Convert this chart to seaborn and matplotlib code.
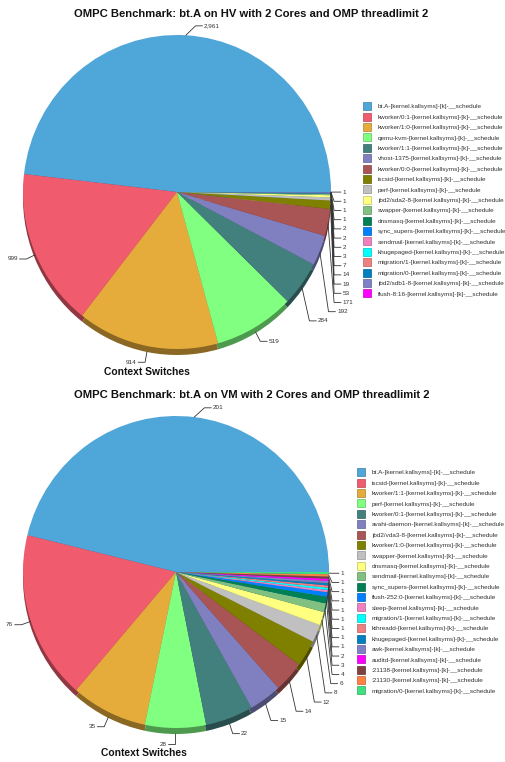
import numpy as np
import matplotlib
matplotlib.use("Agg")
import matplotlib.pyplot as plt
import matplotlib.colors as mcolors
from matplotlib.lines import Line2D
import seaborn as sns

# ---------------- data ----------------
hv_title = "OMPC Benchmark: bt.A on HV with 2 Cores and OMP threadlimit 2"
hv_processes = ["bt.A", "kworker/0:1", "kworker/1:0", "qemu-kvm", "kworker/1:1",
                "vhost-1375", "kworker/0:0", "iscsid", "perf", "jbd2/sda2-8",
                "swapper", "dnsmasq", "sync_supers", "sendmail", "khugepaged",
                "migration/1", "migration/0", "jbd2/sdb1-8", "flush-8:16"]
hv_switches = [2961, 999, 914, 519, 284, 192, 171, 53, 19, 14,
               7, 3, 2, 2, 2, 1, 1, 1, 1]

vm_title = "OMPC Benchmark: bt.A on VM with 2 Cores and OMP threadlimit 2"
vm_processes = ["bt.A", "iscsid", "kworker/1:1", "perf", "kworker/0:1",
                "avahi-daemon", "jbd2/vda3-8", "kworker/1:0", "swapper", "dnsmasq",
                "sendmail", "sync_supers", "flush-252:0", "sleep", "migration/1",
                "kthreadd", "khugepaged", "awk", "auditd", ":21138", ":21130",
                "migration/0"]
vm_switches = [201, 76, 35, 28, 22, 15, 14, 12, 8, 6, 4, 3, 2,
               1, 1, 1, 1, 1, 1, 1, 1, 1]

label_suffix = "-[kernel.kallsyms]-[k]-__schedule"
axis_label = "Context Switches"

palette_hex = ["#4FA6D8", "#F05B6E", "#E6AC3B", "#80FF80", "#42807E", "#8080C0",
               "#AA5555", "#808000", "#C0C0C0", "#FFFF80", "#80C080", "#008055",
               "#0080FF", "#F080C0", "#00FFFF", "#F08080", "#0080C0", "#8080C8",
               "#FF00FF", "#804040", "#FF8040", "#40E080"]

# ---------------- style ----------------
sns.set_theme(style="white")
plt.rcParams['font.family'] = ['Liberation Sans', 'DejaVu Sans']

W, H = 506, 762
fig = plt.figure(figsize=(W / 100, H / 100), dpi=100)
palette = sns.color_palette(palette_hex)


def darken(c, f=0.6):
    r, g, b = mcolors.to_rgb(c)
    return (r * f, g * f, b * f)


def fx(px):
    return px / W


def fy(py):
    return 1 - py / H


def draw_pie(top_px, height_px, center_px, rx_px, ry_px, names, values, title,
             title_y, xlabel_xy, legend_xy):
    ax = fig.add_axes([0, fy(top_px + height_px), 1, height_px / H])
    cols = palette[:len(values)]
    depth = 6.0 / ry_px
    ax.pie(values, colors=[darken(c) for c in cols], startangle=0,
           counterclock=True, radius=1, center=(0, -depth),
           wedgeprops=dict(linewidth=0))
    wedges, _ = ax.pie(values, colors=cols, startangle=0, counterclock=True,
                       radius=1, center=(0, 0), wedgeprops=dict(linewidth=0))
    cx, cy = center_px
    ax.set_xlim((0 - cx) / rx_px, (W - cx) / rx_px)
    ax.set_ylim((cy - (top_px + height_px)) / ry_px, (cy - top_px) / ry_px)
    ax.set_aspect('auto')
    ax.axis('off')

    # data labels with connectors
    r_e, r_lim, gap = 1.06, 1.25, 9.2 / ry_px
    items = []
    for wd, v in zip(wedges, values):
        a = np.deg2rad((wd.theta1 + wd.theta2) / 2)
        s = 1 if np.cos(a) >= 0 else -1
        sa = np.sin(a)
        y = r_e * sa + (depth * 1.2 * sa if sa < 0 else 0)
        items.append(dict(a=a, s=s, y=y, v=v))
    for side in (1, -1):
        grp = sorted([it for it in items if it['s'] == side], key=lambda it: -it['y'])
        prev = None
        for it in grp:
            y = it['y'] if prev is None else min(it['y'], prev - gap)
            prev = y
            xe = min(abs(r_e * np.cos(it['a'])), np.sqrt(max(r_lim ** 2 - y ** 2, 0)), 1.02)
            if y > 0.9:
                xe += 0.06
            s = side
            x0, y0 = np.cos(it['a']), np.sin(it['a'])
            if y0 < 0:
                y0 -= depth * abs(y0)
            ax.plot([x0, s * xe, s * (xe + 0.045)], [y0, y, y], color="#333333",
                    lw=0.6, solid_joinstyle='miter', clip_on=False)
            ax.text(s * (xe + 0.055), y, f"{it['v']:,}", fontsize=4.6,
                    color="#333333", ha='left' if s > 0 else 'right', va='center')

    fig.text(0.497, fy(title_y), title, fontsize=8.1, fontweight='bold',
             ha='center', va='center', color="#111111")
    fig.text(fx(xlabel_xy[0]), fy(xlabel_xy[1]), axis_label, fontsize=7.4,
             fontweight='bold', ha='center', va='center', color="#111111")

    handles = [Line2D([], [], linestyle='none', marker='s', markersize=5.6,
                      markerfacecolor=c, markeredgecolor=darken(c, 0.75),
                      markeredgewidth=0.5) for c in cols]
    labels = [n + label_suffix for n in names]
    ax.legend(handles, labels, loc='upper left',
              bbox_to_anchor=(fx(legend_xy[0]), fy(legend_xy[1])),
              bbox_transform=fig.transFigure, frameon=False, fontsize=4.6,
              borderpad=0, handlelength=1.0, handletextpad=1.15,
              labelspacing=0.77, labelcolor="#333333", borderaxespad=0)


draw_pie(0, 381, (177, 192), 154, 157, hv_processes, hv_switches, hv_title,
         14, (147, 372), (364, 104))
draw_pie(381, 381, (176, 572), 153, 156, vm_processes, vm_switches, vm_title,
         395, (144, 753), (358, 470))

fig.savefig("out.png", dpi=100)
